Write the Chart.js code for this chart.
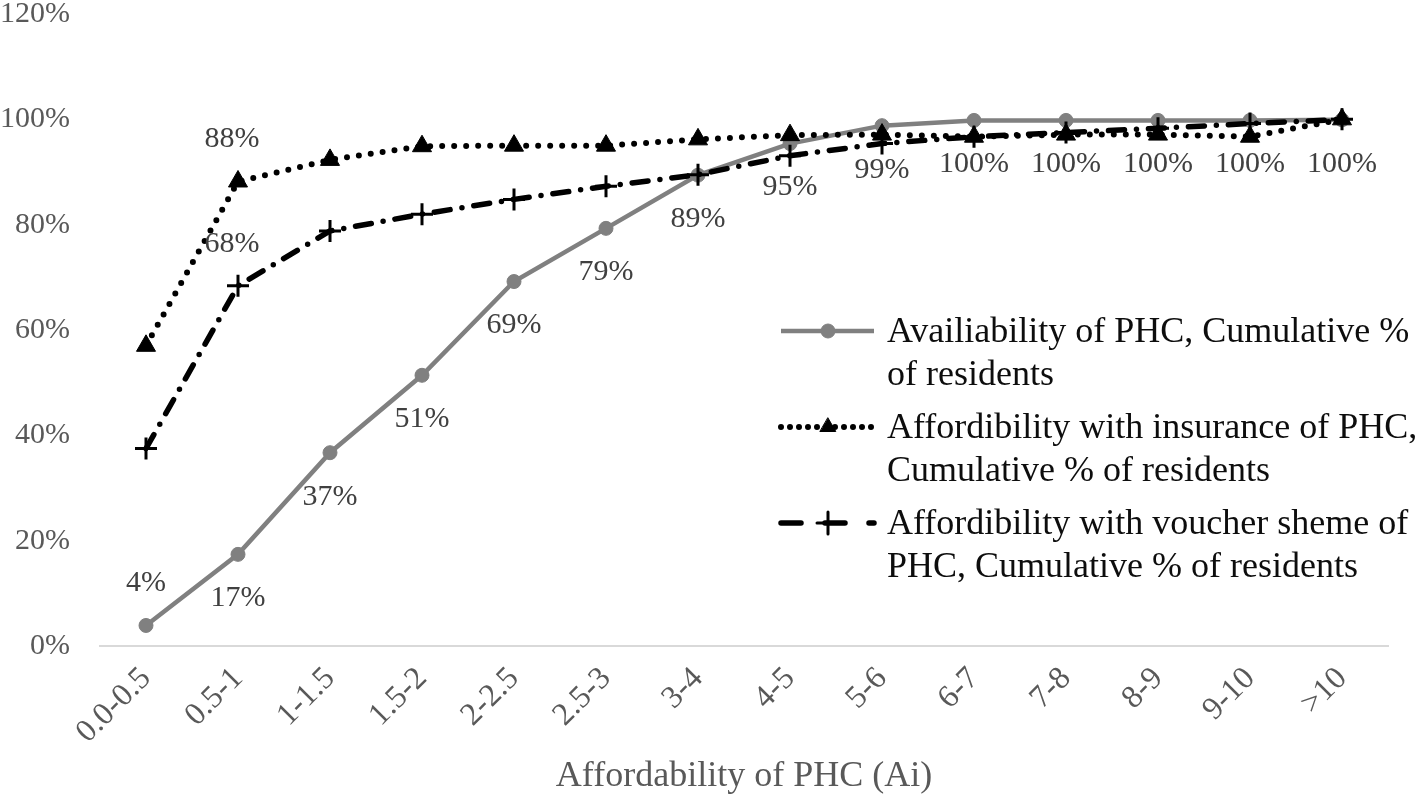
<!DOCTYPE html>
<html><head><meta charset="utf-8">
<script src="https://cdn.jsdelivr.net/npm/chart.js@4.4.1/dist/chart.umd.min.js"></script>
<style>html,body{margin:0;padding:0;background:#fff;} #wrap{position:relative;width:1417px;height:798px;}</style>
</head><body><div id="wrap"><canvas id="c" width="1417" height="798"></canvas></div>
<script>
const categories = ['0.0-0.5','0.5-1','1-1.5','1.5-2','2-2.5','2.5-3','3-4','4-5','5-6','6-7','7-8','8-9','9-10','>10'];
const availability = [3.9,17.4,36.7,51.4,69.2,79.3,89.4,95.4,98.8,99.8,99.8,99.8,99.8,99.9];
const insurance = [57.0,88.2,92.3,94.9,95.0,95.0,96.2,97.0,97.1,96.7,97.1,97.1,96.7,100];
const voucher = [37.5,68.4,78.8,82.0,84.8,87.3,89.5,93.1,95.4,96.7,97.5,98.3,99.2,100];
const yTicks = [0,20,40,60,80,100,120];
const availabilityName = ['Availiability of PHC, Cumulative %','of residents'];
const insuranceName = ['Affordibility with insurance of PHC,','Cumulative % of residents'];
const voucherName = ['Affordibility with voucher sheme of','PHC, Cumulative % of residents'];
const xTitle = 'Affordability of PHC (Ai)';
// which points carry a value label
const availabilityLabelled = categories.map((c,i)=>i);
const insuranceLabelled = [1];
const voucherLabelled = [1];

const SERIF = "'Liberation Serif','Times New Roman',serif";

const labelPlugin = {
  id:'valueLabels',
  afterDatasetsDraw(chart){
    const ctx = chart.ctx;
    ctx.save();
    ctx.font = '30px ' + SERIF;
    ctx.fillStyle = '#404040';
    ctx.textAlign = 'center';
    ctx.textBaseline = 'middle';
    const specs = [
      {ds:0, idx:availabilityLabelled, above:[0]},
      {ds:1, idx:insuranceLabelled, above:[1]},
      {ds:2, idx:voucherLabelled, above:[1]}
    ];
    specs.forEach(s=>{
      const meta = chart.getDatasetMeta(s.ds);
      const data = chart.data.datasets[s.ds].data;
      s.idx.forEach(i=>{
        const p = meta.data[i];
        const up = s.above.includes(i);
        const txt = Math.round(data[i]) + '%';
        ctx.fillText(txt, p.x + (s.ds>0 ? -6 : 0), p.y + (up ? -42 : 44));
      });
    });
    ctx.restore();
  }
};

const legendPlugin = {
  id:'customLegend',
  afterDraw(chart){
    const ctx = chart.ctx;
    ctx.save();
    const names = [availabilityName, insuranceName, voucherName];
    const x0 = 781, x1 = 874, xm = 828, tx = 887;
    const ys = [331, 427, 523];
    chart.data.datasets.forEach((ds,k)=>{
      const y = ys[k];
      ctx.strokeStyle = ds.borderColor;
      ctx.lineWidth = ds.borderWidth;
      ctx.lineCap = ds.borderCapStyle || 'butt';
      ctx.setLineDash(ds.legendDash || ds.borderDash || []);
      ctx.beginPath(); ctx.moveTo(x0,y); ctx.lineTo(x1,y); ctx.stroke();
      ctx.setLineDash([]);
      ctx.fillStyle = ds.pointBackgroundColor; ctx.strokeStyle = ds.pointBorderColor; ctx.lineWidth = ds.pointBorderWidth;
      const r = ds.legendRadius || ds.pointRadius;
      Chart.helpers.drawPoint(ctx, {pointStyle: ds.pointStyle, radius: r, borderWidth: ds.pointBorderWidth, rotation:0}, xm, y);
      ctx.fillStyle = '#0d0d0d';
      ctx.font = '36px ' + SERIF;
      ctx.textAlign = 'left';
      ctx.textBaseline = 'middle';
      names[k].forEach((line,j)=>{ ctx.fillText(line, tx, y + 2 + j*43); });
    });
    ctx.restore();
  }
};

new Chart(document.getElementById('c'), {
  type:'line',
  data:{
    labels: categories,
    datasets:[
      {label: availabilityName.join(' '), data: availability, borderColor:'#808080', backgroundColor:'#808080',
       borderWidth:4.5, pointStyle:'circle', pointRadius:7, pointBackgroundColor:'#808080', pointBorderColor:'#808080', pointBorderWidth:1, order:3},
      {label: insuranceName.join(' '), data: insurance, borderColor:'#000', backgroundColor:'#000',
       borderWidth:6, borderDash:[0,12], borderCapStyle:'round', legendDash:[0,9], pointStyle:'triangle', pointRadius:11, legendRadius:9,
       pointBackgroundColor:'#000', pointBorderColor:'#000', pointBorderWidth:1, order:2},
      {label: voucherName.join(' '), data: voucher, borderColor:'#000', backgroundColor:'#000',
       borderWidth:5.5, borderDash:[16,12,0,12], borderCapStyle:'round', legendDash:[20,24], pointStyle:'cross', pointRadius:11,
       pointBackgroundColor:'#000', pointBorderColor:'#000', pointBorderWidth:3, order:1}
    ]
  },
  options:{
    responsive:false, animation:false, devicePixelRatio:1,
    layout:{padding:{left:0,right:29,top:12,bottom:0}},
    plugins:{legend:{display:false}, tooltip:{enabled:false}},
    elements:{line:{tension:0}},
    scales:{
      x:{
        type:'category', offset:true,
        grid:{display:false, drawTicks:false},
        border:{display:true, color:'#d9d9d9', width:2},
        ticks:{font:{family:SERIF, size:32}, color:'#595959', maxRotation:45, minRotation:45, padding:14, autoSkip:false},
        title:{display:true, text:xTitle, font:{family:SERIF, size:36}, color:'#595959', padding:{top:0,bottom:0}},
        afterFit(s){ s.height = 152; s.paddingLeft = 0; s.paddingRight = 0; }
      },
      y:{
        min:0, max:120,
        grid:{display:false, drawTicks:false},
        border:{display:false},
        afterBuildTicks(s){ s.ticks = yTicks.map(v=>({value:v})); },
        ticks:{font:{family:SERIF, size:30}, color:'#595959', padding:30, callback:v=>v+'%'},
        afterFit(s){ s.width = 100; s.paddingTop = 0; s.paddingBottom = 0; }
      }
    }
  },
  plugins:[labelPlugin, legendPlugin]
});
</script></body></html>
